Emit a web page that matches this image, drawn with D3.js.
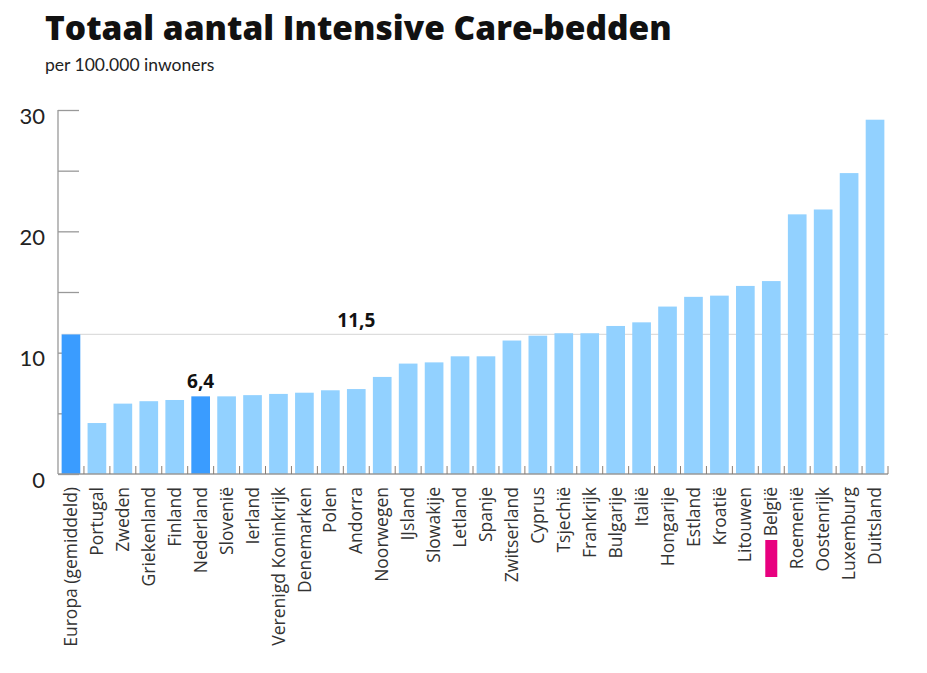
<!DOCTYPE html>
<html>
<head>
<meta charset="utf-8">
<script src="https://cdn.jsdelivr.net/npm/d3@7"></script>
<style>
  body { margin: 0; background: #fff; }
  text { font-family: Lato, "Open Sans", sans-serif; }
</style>
</head>
<body>
<div id="chart"></div>
<script>
const width = 927;
const height = 673;

const countries = ['Europa (gemiddeld)', 'Portugal', 'Zweden', 'Griekenland', 'Finland', 'Nederland',
  'Slovenië', 'Ierland', 'Verenigd Koninkrijk', 'Denemarken', 'Polen', 'Andorra', 'Noorwegen',
  'IJsland', 'Slowakije', 'Letland', 'Spanje', 'Zwitserland', 'Cyprus', 'Tsjechië', 'Frankrijk',
  'Bulgarije', 'Italië', 'Hongarije', 'Estland', 'Kroatië', 'Litouwen', 'België', 'Roemenië',
  'Oostenrijk', 'Luxemburg', 'Duitsland'];
const beds = [11.5, 4.2, 5.8, 6.0, 6.1, 6.4, 6.4, 6.5, 6.6, 6.7, 6.9, 7.0, 8.0,
  9.1, 9.2, 9.7, 9.7, 11.0, 11.4, 11.6, 11.6, 12.2, 12.5, 13.8, 14.6, 14.7, 15.5, 15.9, 21.4,
  21.8, 24.8, 29.2];
const highlighted = ['Europa (gemiddeld)', 'Nederland'];
const marked = 'België';
const average = 11.5;
const yTicks = [0, 5, 10, 15, 20, 25, 30];

const svg = d3.select('#chart')
  .append('svg')
    .attr('width', width)
    .attr('height', height);

const x = d3.scaleBand()
  .domain(countries)
  .range([58, 888])
  .paddingInner(0.28)
  .paddingOuter(0.14);

const y = d3.scaleLinear()
  .domain([0, 30])
  .range([474, 110]);

// title
svg.append('text')
  .attr('x', 45).attr('y', 40)
  .style('font-family', '"Open Sans", sans-serif')
  .style('font-size', '33.5px').style('font-weight', 800)
  .style('fill', '#111')
  .text('Totaal aantal Intensive Care-bedden');
svg.append('text')
  .attr('x', 45).attr('y', 71)
  .style('font-size', '17.5px')
  .style('fill', '#222')
  .text('per 100.000 inwoners');

// y axis
const yAxis = svg.append('g')
  .attr('transform', 'translate(58,0)')
  .call(d3.axisLeft(y)
    .tickValues(yTicks)
    .tickSize(-21)
    .tickPadding(13)
    .tickFormat(d => d % 10 === 0 ? d : ''));
yAxis.selectAll('line, path').attr('stroke', '#999').attr('stroke-width', 1.3);
yAxis.select('.domain').attr('d', `M0,${y(30)}V${y(0)}`);
yAxis.selectAll('text')
  .attr('dy', '0.6em')
  .style('font-size', '22px')
  .style('fill', '#222');

// average line
svg.append('line')
  .attr('x1', x(countries[0])).attr('x2', 888)
  .attr('y1', y(average)).attr('y2', y(average))
  .attr('stroke', '#ddd').attr('stroke-width', 1.2);

// bars
svg.selectAll('.bar')
  .data(countries)
  .join('rect')
    .attr('class', 'bar')
    .attr('x', d => x(d))
    .attr('width', x.bandwidth())
    .attr('y', (d, i) => y(beds[i]))
    .attr('height', (d, i) => y(0) - y(beds[i]))
    .attr('fill', d => highlighted.includes(d) ? '#3a9cff' : '#92d1ff');

// baseline and ticks between bars
svg.append('line')
  .attr('x1', 58).attr('x2', 888)
  .attr('y1', y(0)).attr('y2', y(0))
  .attr('stroke', '#999').attr('stroke-width', 1.3);
const gap = x.step() - x.bandwidth();
svg.selectAll('.xtick')
  .data(countries)
  .join('line')
    .attr('class', 'xtick')
    .attr('x1', d => x(d) + x.bandwidth() + gap / 2)
    .attr('x2', d => x(d) + x.bandwidth() + gap / 2)
    .attr('y1', y(0) - 8).attr('y2', y(0))
    .attr('stroke', '#8a7f76').attr('stroke-width', 1);

// country labels
svg.selectAll('.label')
  .data(countries)
  .join('text')
    .attr('class', 'label')
    .attr('transform', d => `translate(${x(d) + x.bandwidth() / 2},487) rotate(-90)`)
    .attr('dy', '0.35em')
    .attr('text-anchor', 'end')
    .style('font-family', '"Open Sans", sans-serif')
    .style('font-size', '17.5px')
    .style('fill', '#333')
    .text(d => d);

// marker under België
const mx = x(marked) + x.bandwidth() / 2;
svg.append('rect')
  .attr('x', mx - 6).attr('y', 540)
  .attr('width', 12).attr('height', 37)
  .attr('fill', '#e8007f');

// value labels
svg.append('text')
  .attr('x', x('Andorra') + x.bandwidth() / 2)
  .attr('y', y(average) - 7)
  .attr('text-anchor', 'middle')
  .style('font-family', '"Open Sans", sans-serif')
  .style('font-size', '19px').style('font-weight', 'bold')
  .style('fill', '#111')
  .text('11,5');
svg.append('text')
  .attr('x', x('Nederland') + x.bandwidth() / 2)
  .attr('y', y(beds[countries.indexOf('Nederland')]) - 8)
  .attr('text-anchor', 'middle')
  .style('font-family', '"Open Sans", sans-serif')
  .style('font-size', '19px').style('font-weight', 'bold')
  .style('fill', '#111')
  .text('6,4');
</script>
</body>
</html>
